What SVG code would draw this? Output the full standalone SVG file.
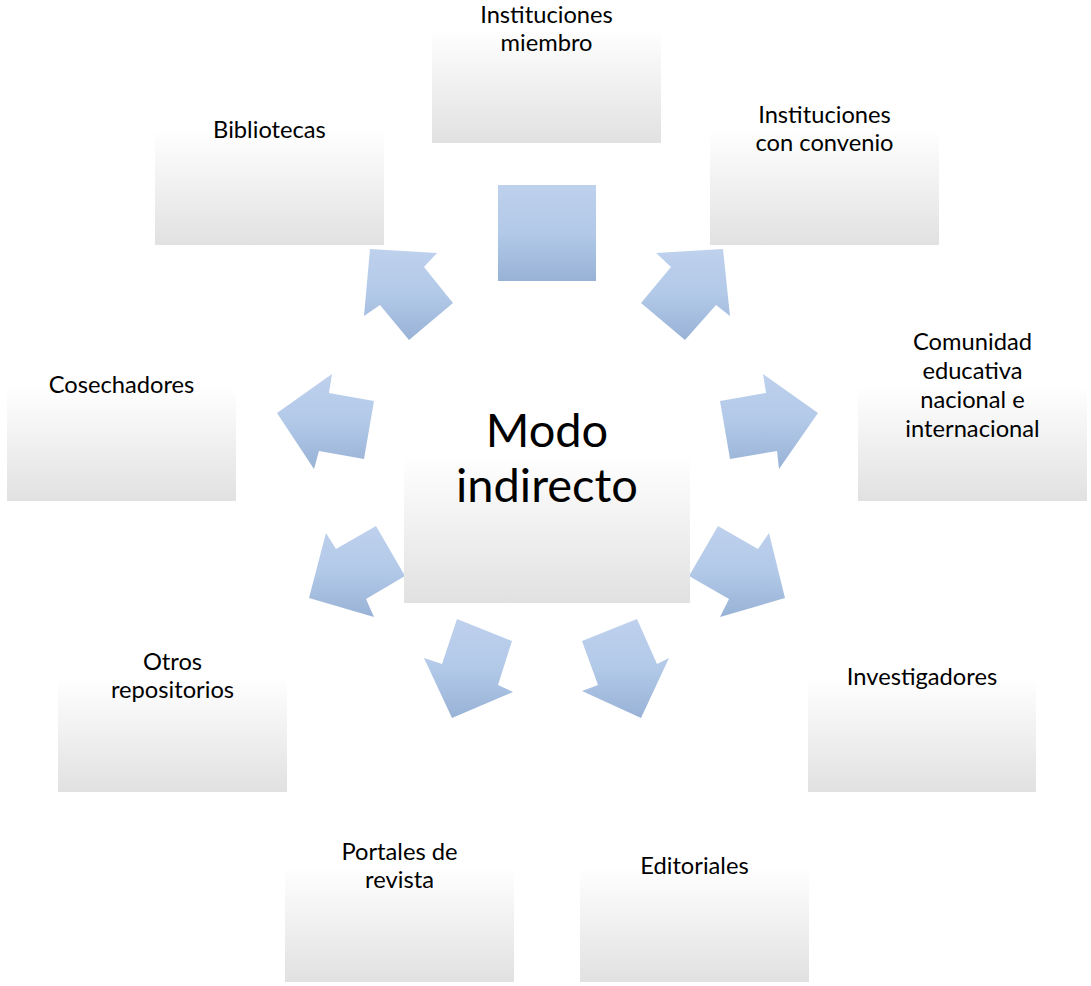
<svg xmlns="http://www.w3.org/2000/svg" width="1091" height="986" viewBox="0 0 1091 986">
  <defs>
    <linearGradient id="boxg" x1="0" y1="0" x2="0" y2="1">
      <stop offset="0" stop-color="#ffffff"/>
      <stop offset="1" stop-color="#e1e1e1"/>
    </linearGradient>
    <linearGradient id="arrg" x1="0" y1="0" x2="0" y2="1">
      <stop offset="0" stop-color="#bed1ed"/>
      <stop offset="0.5" stop-color="#b2c9e8"/>
      <stop offset="1" stop-color="#98b2d6"/>
    </linearGradient>
    <style>
      .box { fill: url(#boxg); }
      .arr { fill: url(#arrg); }
      .t { font-family: Lato, "Liberation Sans", sans-serif; font-size: 23.7px; fill: #000; text-anchor: middle; }
      .big { font-family: Lato, "Liberation Sans", sans-serif; font-size: 47px; fill: #000; text-anchor: middle; }
    </style>
  </defs>
  <rect width="1091" height="986" fill="#ffffff"/>

  <g id="connectors">
    <rect class="arr" x="498" y="185" width="98" height="96"/>
    <polygon class="arr" points="370,249 437,253 424,267 453,303 409,340 380,305 364,316"/>
    <polygon class="arr" points="723,249 656,253 671,267 641,303 685,340 716,305 730,316"/>
    <polygon class="arr" points="277,413 332,374 329,393 374,401 364,459 319,451 314,469"/>
    <polygon class="arr" points="818,413 763,374 766,393 720,401 730,459 777,451 779,469"/>
    <polygon class="arr" points="376,526 405,576 366,599 374,617 309,598 326,533 336,549"/>
    <polygon class="arr" points="718,526 689,576 729,599 720,617 785,598 769,533 758,549"/>
    <polygon class="arr" points="457,619 512,641 498,685 513,692 452,718 424,658 442,664"/>
    <polygon class="arr" points="637,619 582,641 598,685 582,691 641,718 669,658 657,664"/>
  </g>

  <g id="center">
    <rect class="box" x="404" y="455" width="286" height="148"/>
    <text class="big" x="547" y="447">Modo</text>
    <text class="big" x="547" y="502">indirecto</text>
  </g>

  <g id="n-miembro">
    <rect class="box" x="432" y="28" width="229" height="115"/>
    <text class="t" x="546.5" y="23">Instituciones</text>
    <text class="t" x="546.5" y="51">miembro</text>
  </g>

  <g id="n-bibliotecas">
    <rect class="box" x="155" y="130" width="229" height="115"/>
    <text class="t" x="269.5" y="138">Bibliotecas</text>
  </g>

  <g id="n-convenio">
    <rect class="box" x="710" y="130" width="229" height="115"/>
    <text class="t" x="824.5" y="123">Instituciones</text>
    <text class="t" x="824.5" y="151">con convenio</text>
  </g>

  <g id="n-cosechadores">
    <rect class="box" x="7" y="386" width="229" height="115"/>
    <text class="t" x="121.5" y="393">Cosechadores</text>
  </g>

  <g id="n-comunidad">
    <rect class="box" x="858" y="386" width="229" height="115"/>
    <text class="t" x="972.5" y="350">Comunidad</text>
    <text class="t" x="972.5" y="379">educativa</text>
    <text class="t" x="972.5" y="408">nacional e</text>
    <text class="t" x="972.5" y="437">internacional</text>
  </g>

  <g id="n-otros">
    <rect class="box" x="58" y="677" width="229" height="115"/>
    <text class="t" x="172.5" y="670">Otros</text>
    <text class="t" x="172.5" y="698">repositorios</text>
  </g>

  <g id="n-investigadores">
    <rect class="box" x="808" y="677" width="228" height="115"/>
    <text class="t" x="922" y="685">Investigadores</text>
  </g>

  <g id="n-portales">
    <rect class="box" x="285" y="867" width="229" height="115"/>
    <text class="t" x="399.5" y="860">Portales de</text>
    <text class="t" x="399.5" y="888">revista</text>
  </g>

  <g id="n-editoriales">
    <rect class="box" x="580" y="867" width="229" height="115"/>
    <text class="t" x="694.5" y="874">Editoriales</text>
  </g>
</svg>
